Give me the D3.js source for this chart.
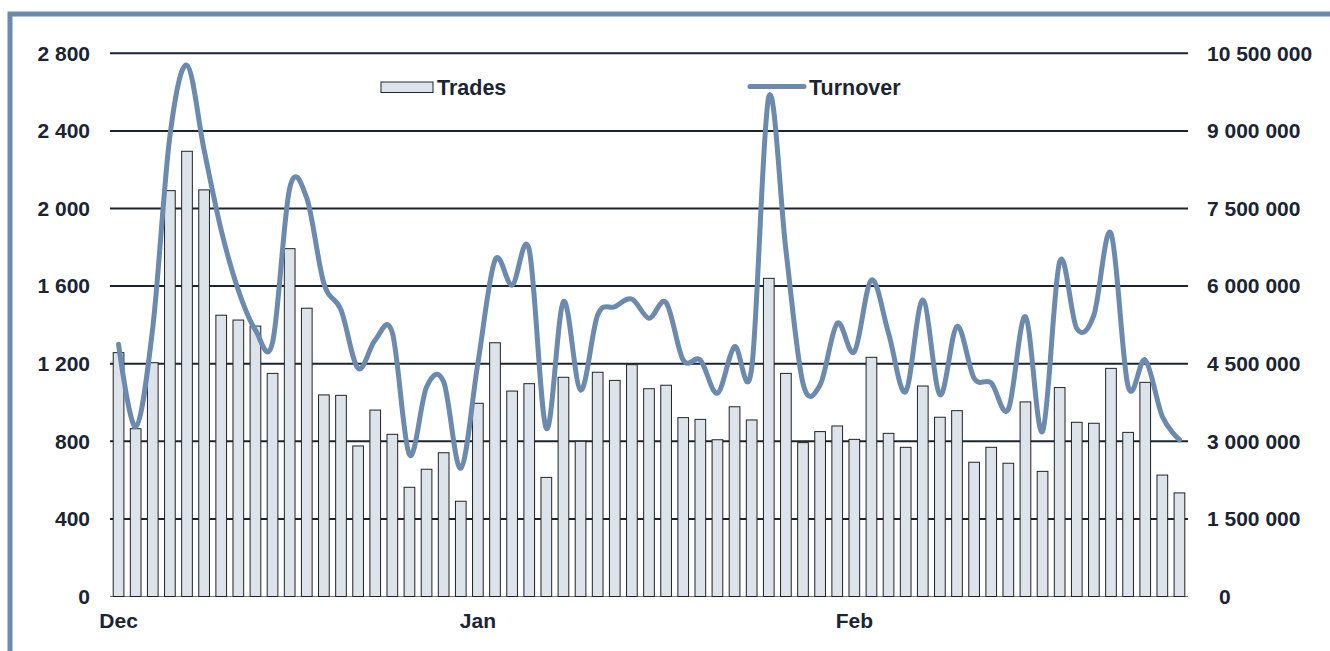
<!DOCTYPE html>
<html>
<head>
<meta charset="utf-8">
<script src="https://cdn.jsdelivr.net/npm/d3@7"></script>
<style>
  body { margin: 0; background: #fff; }
  svg { display: block; }
  text { font-family: "Liberation Sans", Arial, sans-serif; font-weight: bold; fill: #1b2433; }
</style>
</head>
<body>
<div id="chart"></div>
<script>
// number of trades per trading day
var trades = [1257, 865, 1205, 2092, 2295, 2096, 1450, 1425, 1394, 1150,
    1793, 1486, 1039, 1037, 776, 961, 836, 563, 656, 741,
    491, 996, 1308, 1059, 1097, 614, 1130, 800, 1156, 1114,
    1195, 1071, 1089, 922, 913, 808, 978, 910, 1640, 1150,
    793, 850, 879, 810, 1233, 841, 769, 1085, 924, 958,
    692, 769, 687, 1003, 645, 1077, 898, 893, 1176, 846,
    1104, 626, 534]

// turnover per trading day
var turnover = [4875000, 3280000, 5200000, 8900000, 10270000, 8630000, 7080000, 5920000, 5150000, 4910000,
    7890000, 7700000, 6050000, 5540000, 4410000, 4960000, 5100000, 2740000, 4050000, 4150000,
    2480000, 4510000, 6500000, 6020000, 6700000, 3250000, 5700000, 3990000, 5440000, 5600000,
    5750000, 5380000, 5680000, 4570000, 4570000, 3930000, 4830000, 4410000, 9660000, 6700000,
    4120000, 4090000, 5280000, 4730000, 6120000, 5090000, 3960000, 5730000, 3900000, 5220000,
    4220000, 4130000, 3620000, 5410000, 3190000, 6470000, 5180000, 5440000, 7020000, 4060000,
    4570000, 3480000, 3030000]

var monthLabels = ["Dec", "Jan", "Feb"]
var monthStart = [0, 21, 43]

var leftTicks = [0, 400, 800, 1200, 1600, 2000, 2400, 2800]
var rightTicks = [0, 1500000, 3000000, 4500000, 6000000, 7500000, 9000000, 10500000]

var width = 1330, height = 651
var plot = { left: 110, right: 1188, top: 53.3, bottom: 596.5 }
var lineColor = "#6b8aae"

var fmt = d3.formatLocale({ decimal: ".", thousands: " ", grouping: [3], currency: ["", ""] }).format(",")

var svg = d3.select("#chart").append("svg")
    .attr("width", width)
    .attr("height", height)

// frame
svg.append("rect")
    .attr("x", 10).attr("y", 14)
    .attr("width", width + 20).attr("height", height + 20)
    .attr("fill", "none")
    .attr("stroke", lineColor)
    .attr("stroke-width", 5)

var x = d3.scaleBand()
    .domain(d3.range(trades.length))
    .range([plot.left, plot.right])
    .paddingInner(0.375)
    .paddingOuter(0.1875)

var yL = d3.scaleLinear().domain([0, 2800]).range([plot.bottom, plot.top])
var yR = d3.scaleLinear().domain([0, 10500000]).range([plot.bottom, plot.top])

// grid lines
svg.append("g")
  .selectAll("line")
    .data(leftTicks)
  .enter().append("line")
    .attr("x1", plot.left)
    .attr("x2", plot.right)
    .attr("y1", function(d) { return yL(d) })
    .attr("y2", function(d) { return yL(d) })
    .attr("stroke", function(d) { return d === 0 ? "#777" : "#1c2430" })
    .attr("stroke-width", function(d) { return d === 0 ? 1.2 : 2 })

// bars
svg.append("g")
  .selectAll("rect")
    .data(trades)
  .enter().append("rect")
    .attr("x", function(d, i) { return x(i) })
    .attr("y", function(d) { return yL(d) })
    .attr("width", x.bandwidth())
    .attr("height", function(d) { return yL(0) - yL(d) })
    .attr("fill", "#dce3ea")
    .attr("stroke", "#222")
    .attr("stroke-width", 1)

// turnover line
var line = d3.line()
    .x(function(d, i) { return x(i) + x.bandwidth() / 2 })
    .y(function(d) { return yR(d) })
    .curve(d3.curveCardinal.tension(0))

svg.append("path")
    .datum(turnover)
    .attr("d", line)
    .attr("fill", "none")
    .attr("stroke", lineColor)
    .attr("stroke-width", 5)
    .attr("stroke-linecap", "round")
    .attr("stroke-linejoin", "round")

// axes
var leftAxis = svg.append("g")
    .attr("transform", "translate(" + plot.left + ",0)")
    .call(d3.axisLeft(yL).tickValues(leftTicks).tickSize(0).tickPadding(20).tickFormat(fmt))
var rightAxis = svg.append("g")
    .attr("transform", "translate(" + plot.right + ",0)")
    .call(d3.axisRight(yR).tickValues(rightTicks).tickSize(0).tickPadding(19).tickFormat(fmt))

svg.selectAll(".domain").remove()
svg.selectAll(".tick text")
    .attr("font-size", 21)
    .attr("font-family", null)
    .attr("fill", null)
rightAxis.selectAll(".tick text")
    .filter(function(d) { return d === 0 })
    .attr("x", 31)

// month labels
svg.append("g")
  .selectAll("text")
    .data(monthLabels)
  .enter().append("text")
    .attr("x", function(d, i) { return x(monthStart[i]) + x.bandwidth() / 2 })
    .attr("y", 628)
    .attr("text-anchor", "middle")
    .attr("font-size", 21)
    .text(function(d) { return d })

// legend
var legend = svg.append("g")
legend.append("rect")
    .attr("x", 381).attr("y", 82)
    .attr("width", 52).attr("height", 10.5)
    .attr("fill", "#dce3ea")
    .attr("stroke", "#222")
legend.append("text")
    .attr("x", 437).attr("y", 94.5)
    .attr("font-size", 21.5)
    .text("Trades")
legend.append("line")
    .attr("x1", 750).attr("x2", 804)
    .attr("y1", 86.5).attr("y2", 86.5)
    .attr("stroke", lineColor)
    .attr("stroke-width", 5)
    .attr("stroke-linecap", "round")
legend.append("text")
    .attr("x", 809).attr("y", 94.5)
    .attr("font-size", 21.5)
    .text("Turnover")
</script>
</body>
</html>
